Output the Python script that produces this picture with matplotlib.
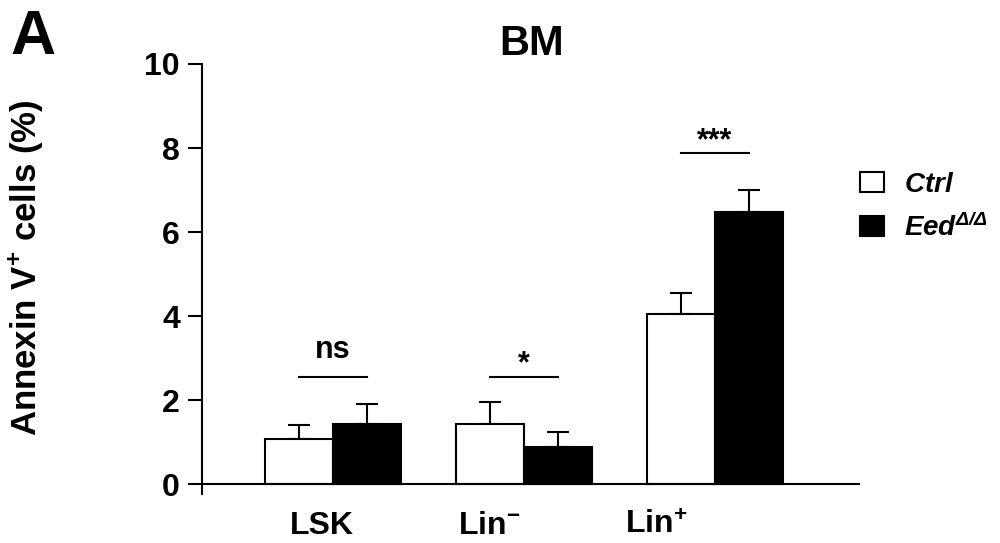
import numpy as np
import matplotlib
matplotlib.use('Agg')
import matplotlib.pyplot as plt
from matplotlib.patches import Patch

plt.rcParams['font.family'] = ['Liberation Sans', 'DejaVu Sans']
plt.rcParams['font.weight'] = 'bold'
plt.rcParams['mathtext.fontset'] = 'custom'
plt.rcParams['mathtext.rm'] = 'Liberation Sans:bold'
plt.rcParams['mathtext.bf'] = 'Liberation Sans:bold'
plt.rcParams['mathtext.it'] = 'Liberation Sans:italic:bold'
plt.rcParams['mathtext.bfit'] = 'Liberation Sans:italic:bold'

# data
groups = ['LSK', r'Lin$^{-}$', r'Lin$^{+}$']
ctrl_mean = [1.08, 1.43, 4.05]
ctrl_err = [0.32, 0.53, 0.49]
eed_mean = [1.43, 0.90, 6.47]
eed_err = [0.48, 0.34, 0.53]
sig_labels = ['ns', '*', '***']
sig_heights = [2.56, 2.56, 7.88]

x = np.arange(len(groups))
w = 0.355
off = 0.178

fig = plt.figure(figsize=(10, 5.43), dpi=100)
ax = fig.add_axes([0.202, 0.0902, 0.657, 0.792])

ax.bar(x - off, ctrl_mean, w, color='white', edgecolor='black', linewidth=1.5, zorder=2)
ax.bar(x + off, eed_mean, w, color='black', edgecolor='black', linewidth=1.5, zorder=2)
ax.errorbar(x - off, ctrl_mean, yerr=[np.zeros(3), ctrl_err], fmt='none',
            ecolor='black', elinewidth=1.5, capsize=8, capthick=1.5, zorder=1)
ax.errorbar(x + off, eed_mean, yerr=[np.zeros(3), eed_err], fmt='none',
            ecolor='black', elinewidth=1.5, capsize=8, capthick=1.5, zorder=1)

# significance brackets
for i, (lab, h) in enumerate(zip(sig_labels, sig_heights)):
    ax.plot([i - off, i + off], [h, h], color='black', lw=1.5)
    dy = 0.44 if lab == 'ns' else 0.1
    ax.text(i, h + dy, lab, ha='center', va='baseline', fontsize=22, fontweight='bold')

ax.set_xlim(-0.686, 2.754)
ax.set_ylim(-0.23, 10)
ax.set_yticks([0, 2, 4, 6, 8, 10])
ax.set_xticks([-0.06, 0.82, 1.69])
ax.set_xticklabels(groups)
ax.tick_params(axis='y', length=10, width=1.5, pad=6, labelsize=23)
ax.tick_params(axis='x', length=0, pad=19, labelsize=23)

ax.spines['top'].set_visible(False)
ax.spines['right'].set_visible(False)
ax.spines['bottom'].set_position(('data', 0))
ax.spines['bottom'].set_linewidth(1.5)
ax.spines['left'].set_linewidth(1.5)

handles = [Patch(facecolor='white', edgecolor='black', linewidth=1.5),
           Patch(facecolor='black', edgecolor='black', linewidth=1.5)]
labels = [r'$\mathbfit{Ctrl}$', r'$\mathbfit{Eed}^{\mathbfit{Δ/Δ}}$']
ax.legend(handles, labels, loc='upper left', bbox_to_anchor=(0.985, 0.775),
          frameon=False, fontsize=20, handlelength=0.86, handleheight=0.72,
          handletextpad=0.72, labelspacing=0.55, borderaxespad=0)

fig.text(0.532, 1 - 24 / 543, 'BM', ha='center', va='top', fontsize=30, fontweight='bold')
fig.text(0.01, 1 - 8 / 543, 'A', ha='left', va='top', fontsize=45, fontweight='bold')
fig.text(0.026, 1 - 268 / 543, r'Annexin V$^{+}$ cells (%)', rotation=90,
         ha='center', va='center', fontsize=25, fontweight='bold')

fig.savefig('out.png', dpi=100)
